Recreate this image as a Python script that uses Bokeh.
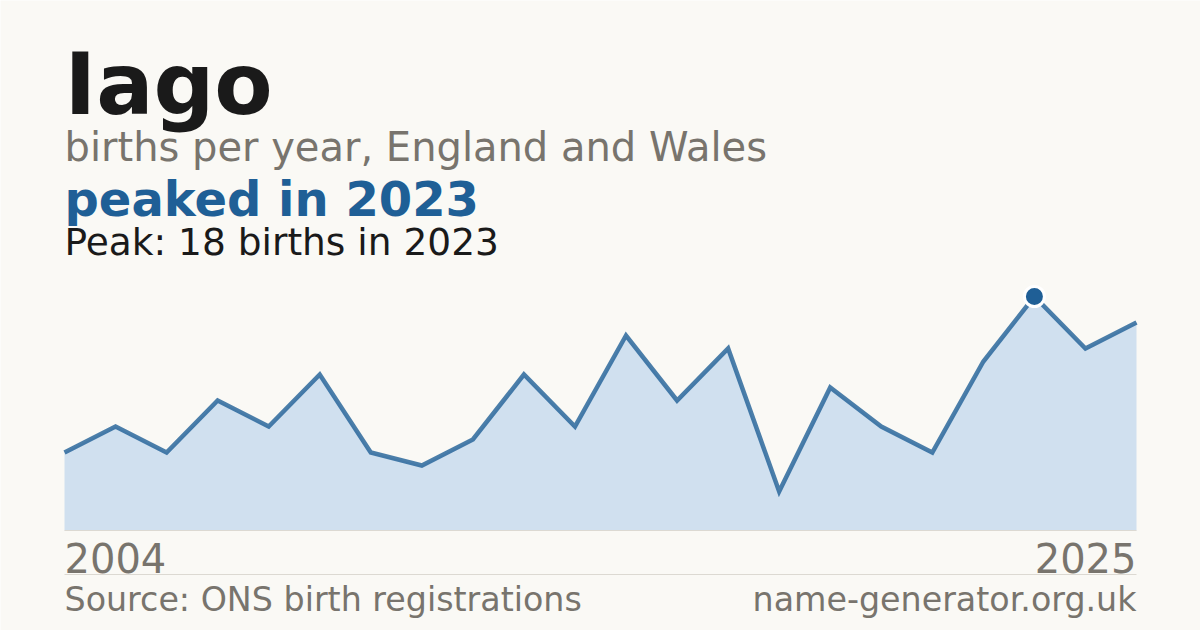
from bokeh.plotting import figure
from bokeh.models import Range1d, Label, ColumnDataSource
from bokeh.embed import file_html
from bokeh.resources import INLINE

# ---- data ----
name = "Iago"
years = list(range(2004, 2026))
births = [6, 8, 6, 10, 8, 12, 6, 5, 7, 12, 8, 15, 10, 14, 3, 11, 8, 6, 13, 18, 14, 16]
subtitle = "births per year, England and Wales"
source_text = "Source: ONS birth registrations"
site_text = "name-generator.org.uk"

peak = max(births)
peak_year = years[births.index(peak)]

# ---- layout constants (pixels, y from top) ----
W, H = 1200, 630
LEFT, RIGHT = 64, 1136
BASE, TOP = 530, 270
Y_TOP_VALUE = 20

BG = "#faf9f5"
BLUE = "#1f5f96"
GREY = "#78746d"
DARK = "#1a1a1a"
FONT = "DejaVu Sans"

p = figure(width=W, height=H, output_backend="svg", toolbar_location=None,
           x_range=Range1d(0, W), y_range=Range1d(H, 0), min_border=0)
p.axis.visible = False
p.grid.visible = False
p.outline_line_color = None
p.background_fill_color = BG
p.border_fill_color = BG

ppy = (RIGHT - LEFT) / (years[-1] - years[0])
ppu = (BASE - TOP) / Y_TOP_VALUE
p.extra_x_ranges = {"yr": Range1d(years[0] - LEFT / ppy, years[-1] + (W - RIGHT) / ppy)}
p.extra_y_ranges = {"n": Range1d(0 - (H - BASE) / ppu, Y_TOP_VALUE + TOP / ppu)}

src = ColumnDataSource(dict(x=years, y=births))
p.varea(x="x", y1=0, y2="y", source=src, fill_color="#d0e0ef",
        x_range_name="yr", y_range_name="n")
p.segment(x0=[years[0]], x1=[years[-1]], y0=[0], y1=[0], line_color="#dcd9d2",
          line_width=1, x_range_name="yr", y_range_name="n")
p.line(x="x", y="y", source=src, line_color=BLUE, line_alpha=0.8, line_width=4.5,
       line_join="miter", x_range_name="yr", y_range_name="n")
p.scatter(x=[peak_year], y=[peak], size=20, fill_color=BLUE, line_color="white",
          line_width=3, x_range_name="yr", y_range_name="n")

# separator
p.segment(x0=[LEFT], x1=[RIGHT], y0=[574], y1=[574], line_color="#dcd9d2", line_width=1)

def lab(x, baseline, text, size, color, bold=False, align="left", **kw):
    p.add_layout(Label(x=x, y=baseline - 0.33 * size, text=text, text_font=FONT,
                       text_font_size=f"{size}px", text_color=color,
                       text_font_style="bold" if bold else "normal",
                       text_align=align, text_baseline="alphabetic", **kw))

lab(LEFT, 112, name, 85, DARK, bold=True)
lab(LEFT, 160, subtitle, 40, GREY)
lab(LEFT, 214, f"peaked in {peak_year}", 48, BLUE, bold=True)
lab(LEFT, 254, f"Peak: {peak} births in {peak_year}", 37.5, DARK)

lab(years[0], 571, str(years[0]), 40, GREY, x_range_name="yr")
lab(years[-1], 571, str(years[-1]), 40, GREY, align="right", x_range_name="yr")

lab(LEFT, 610, source_text, 33.3, GREY)
lab(RIGHT, 610, site_text, 33.3, GREY, align="right")

html = file_html(p, INLINE)
html = html.replace("<body>", f'<body style="background:{BG}">', 1)
open("out.html", "w").write(html)
